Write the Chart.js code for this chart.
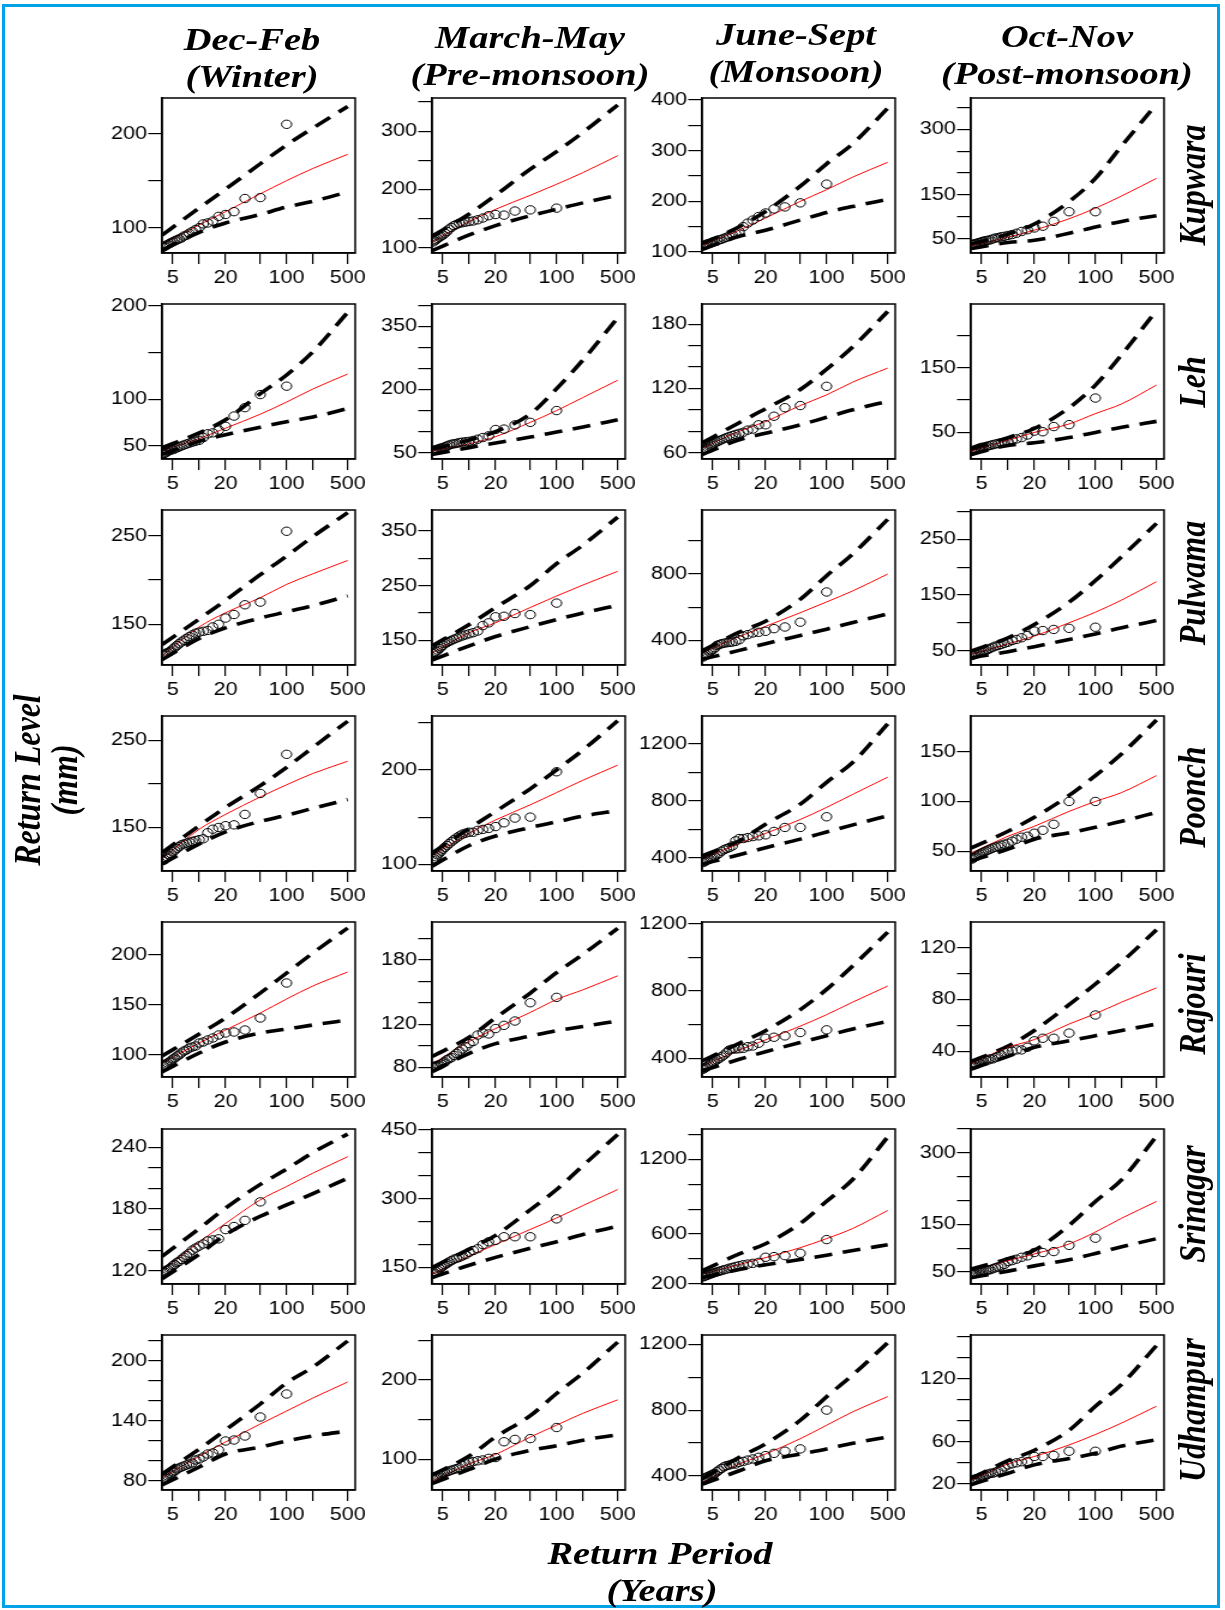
<!DOCTYPE html>
<html lang="en">
<head>
<meta charset="UTF-8">
<title>Return level plots</title>
<script src="https://cdn.jsdelivr.net/npm/chart.js"></script>
<style>
  body { margin: 0; background: #fff; }
  #frame { position: absolute; left: 2px; top: 4px; width: 1218px; height: 1604px; border: 3px solid #00a2e8; box-sizing: border-box; }
  /* the source figure is stretched sideways, so everything is drawn narrow and widened */
  #sheet { position: absolute; left: 0; top: 0; width: 1021px; height: 1610px; transform: scaleX(1.2); transform-origin: 0 0; }
  .lab { position: absolute; font-family: 'Liberation Serif', 'Times New Roman', serif; font-weight: bold; font-style: italic;
         font-size: 32px; line-height: 1; white-space: nowrap; color: #000; transform: translate(-50%, -50%); }
  .rot { transform: translate(-50%, -50%) rotate(-90deg); }
</style>
</head>
<body>
<div id="frame"></div>
<div id="sheet"></div>
<script>
// return periods where the fitted curve and bounds are read
const periods = [3.75, 10, 20, 50, 100, 200, 500];
// plotting positions of the ranked observations
const plotPos = [100, 50, 33.33, 25, 20, 16.67, 14.29, 12.5, 11.11, 10, 9.09, 8.33, 7.69, 7.14, 6.67, 6.25, 5.88, 5.56, 5.26, 5, 4.76, 4.55, 4.35, 4.17, 4, 3.85];
const xTicks = [5, 10, 20, 50, 100, 200, 500];
const xLabels = [5, 20, 100, 500];
const seasons = [['Dec-Feb', '(Winter)'], ['March-May', '(Pre-monsoon)'], ['June-Sept', '(Monsoon)'], ['Oct-Nov', '(Post-monsoon)']];
const stations = ['Kupwara', 'Leh', 'Pulwama', 'Poonch', 'Rajouri', 'Srinagar', 'Udhampur'];

// each station: one entry per season (winter, pre-monsoon, monsoon, post-monsoon)
const kupwaraLevel = [[82,103,117,136,150,163,178],[110,145,166,190,209,229,258],[113,143,167,200,223,248,277],[34,54,70,96,120,148,188]];
const kupwaraUpper = [[92,121,141,168,188,206,229],[120,158,190,235,265,298,345],[116,150,180,230,274,314,384],[38,61,84,135,188,262,357]];
const kupwaraLower = [[76,95,105,114,122,128,138],[95,122,138,155,166,177,190],[105,131,143,163,178,190,204],[28,42,47,63,77,90,103]];
const kupwaraObs = [
  [210,132,131,117,114,112,107,105,104,100,98,96,94,92,91,89,88,87,86,85,84,83,82,81,80,79],
  [168,165,163,156,157,155,151,148,146,145,144,143,142,140,138,135,132,128,125,122,120,118,116,114,112,110],
  [234,197,189,185,177,170,163,157,150,140,136,134,131,129,127,125,124,122,121,120,118,117,116,115,113,112],
  [112,112,90,79,75,71,67,63,60,58,56,55,53,52,50,48,47,46,45,44,42,41,40,39,38,37]];
const kupwaraRange = [[73,238],[91,357],[98,404],[18,371]];
const kupwaraTicks = [[100,150,200],[100,150,200,250,300,350],[100,150,200,250,300,350,400],[50,100,150,200,250,300,350]];
const kupwaraLabels = [[100,200],[100,200,300],[100,200,300,400],[50,150,300]];

const lehLevel = [[45,58,69,84,97,111,127],[54,71,88,122,150,181,222],[64,80,89,104,114,126,139],[21,38,50,63,79,94,123]];
const lehUpper = [[48,64,78,106,126,151,193],[58,80,100,142,202,270,370],[69,88,101,119,138,159,192],[24,42,56,88,123,170,238]];
const lehLower = [[41,55,62,70,76,81,90],[46,62,73,87,99,111,128],[58,72,78,86,93,100,108],[16,30,34,42,50,58,67]];
const lehObs = [
  [114,105,91,82,71,67,64,63,59,56,55,54,53,52,51,50,49,48,47,46,46,45,44,43,42,41],
  [150,122,116,106,105,90,86,82,79,77,76,75,74,72,71,70,68,66,64,62,61,60,58,57,56,55],
  [122,104,102,94,86,86,82,81,79,78,77,76,75,74,73,72,71,70,69,68,67,66,65,64,63,62],
  [103,62,59,51,52,46,42,40,38,36,35,34,33,32,31,30,29,28,27,27,26,25,24,23,22,21]];
const lehRange = [[36,202],[35,403],[54,199],[9,248]];
const lehTicks = [[50,100,150,200],[50,100,150,200,250,300,350,400],[60,80,100,120,140,160,180],[50,100,150,200]];
const lehLabels = [[50,100,200],[50,200,350],[60,120,180],[50,150]];

const pulwamaLevel = [[114,147,163,180,195,207,222],[127,164,182,210,231,251,276],[323,424,485,567,632,699,800],[43,62,76,100,119,141,174]];
const pulwamaUpper = [[127,156,177,206,227,249,276],[140,179,210,250,290,324,375],[338,450,516,648,790,922,1130],[49,73,97,137,176,219,279]];
const pulwamaLower = [[110,134,146,157,164,171,182],[114,140,157,175,188,200,214],[286,340,380,430,468,508,560],[37,48,57,70,80,91,104]];
const pulwamaObs = [
  [255,175,172,161,157,150,147,143,142,141,140,138,136,134,132,130,128,126,124,122,120,119,118,117,116,115],
  [218,197,199,194,193,182,177,167,164,162,160,158,156,154,152,150,148,146,144,141,138,135,132,130,128,126],
  [692,510,481,471,455,449,445,435,428,404,394,390,388,386,383,380,375,370,355,345,338,330,322,315,308,300],
  [92,90,88,86,85,77,73,70,68,65,63,61,59,58,56,54,52,50,49,48,47,45,44,43,42,41]];
const pulwamaRange = [[104,279],[105,388],[252,1186],[24,303]];
const pulwamaTicks = [[150,200,250],[150,200,250,300,350],[400,600,800,1000],[50,100,150,200,250,300]];
const pulwamaLabels = [[150,250],[150,250,350],[400,800],[50,150,250]];

const poonchLevel = [[114,148,165,185,199,212,226],[109,133,147,163,176,189,205],[388,500,570,668,753,845,965],[48,65,75,90,100,109,126]];
const poonchUpper = [[121,152,173,198,219,242,272],[112,138,156,180,200,221,252],[412,518,635,776,929,1070,1340],[53,70,84,106,126,148,182]];
const poonchLower = [[108,131,145,157,164,172,182],[98,120,130,139,145,151,157],[353,420,470,530,580,630,694],[40,52,62,68.5,74,80,89]];
const poonchObs = [
  [234,189,165,153,152,150,148,144,137,136,135,134,133,132,131,130,128,126,124,122,120,118,116,115,113,112],
  [198,150,149,144,140,138,137,136,134,134,133,132,130,128,126,124,122,120,118,116,114,112,110,108,106,104],
  [687,612,612,584,560,553,548,541,534,534,518,482,470,463,455,445,430,420,410,400,395,390,385,378,372,365],
  [100,100,77,71,68,65,64,62,60,58,57,56,55,54,53,52,51,50,49,48,47,46,45,44,43,42]];
const poonchRange = [[100,278],[93,257],[306,1395],[30,186]];
const poonchTicks = [[150,200,250],[100,150,200,250],[400,600,800,1000,1200],[50,100,150]];
const poonchLabels = [[150,250],[100,200],[400,800,1200],[50,100,150]];

const rajouriLevel = [[92,112,125,142,156,169,183],[83,104,116,131,143,152,165],[354,450,510,592,660,735,830],[30,43,49,61,69,78,89]];
const rajouriUpper = [[99,121,137,162,182,202,227],[90,108,126,149,168,185,209],[385,490,565,690,810,950,1150],[32,44,56,76,92,109,134]];
const rajouriLower = [[83,102,113,122,126,130,135],[76,93,102,109,114,118,123],[326,395,440,495,535,575,620],[26,36,43,48,52,56,61]];
const rajouriObs = [
  [172,137,125,123,122,120,117,115,113,112,109,108,107,105,104,102,100,99,97,96,94,93,92,91,90,89],
  [145,140,123,119,116,111,112,110,104,102,99,97,95,93,91,89,88,87,85,84,83,82,82,81,81,80],
  [570,554,534,526,520,490,474,470,460,458,456,456,450,434,420,410,400,392,385,378,370,362,355,348,342,336],
  [68,54,50,50,48,43,41,41,40,40,39,37,36,35,34,34,33,33,32,32,31,31,30,30,29,29]];
const rajouriRange = [[78,233],[71,215],[290,1210],[20,140]];
const rajouriTicks = [[100,150,200],[80,100,120,140,160,180,200],[400,600,800,1000,1200],[40,60,80,100,120]];
const rajouriLabels = [[100,150,200],[80,120,180],[400,800,1200],[40,80,120]];

const srinagarLevel = [[120,148,166,189,202,215,231],[135,175,200,233,258,285,320],[276,355,410,490,563,645,789],[52,74,88,109,134,163,198]];
const srinagarUpper = [[134,161,181,204,219,235,253],[150,190,220,276,320,372,440],[304,440,522,685,863,1040,1380],[56,78,96,148,198,244,335]];
const srinagarLower = [[112,136,155,173,184,195,210],[128,155,172,192,206,222,240],[249,315,352,395,430,467,514],[38,52,63,76,89,103,120]];
const srinagarObs = [
  [null,187,169,163,160,151,150,149,146,144,142,140,137,135,133,131,129,128,126,125,123,122,121,120,119,118],
  [256,217,217,217,209,206,200,191,187,183,178,175,172,170,168,165,162,159,156,153,150,147,144,141,138,136],
  [555,445,426,418,413,372,364,358,353,345,339,331,325,317,312,306,300,295,290,285,280,275,270,265,260,255],
  [121,106,93,91,91,84,81,77,74,72,66,63,61,59,57,55,54,53,52,51,50,49,48,47,46,45]];
const srinagarRange = [[107,258],[114,452],[198,1444],[25,350]];
const srinagarTicks = [[120,140,160,180,200,220,240],[150,200,250,300,350,400,450],[200,400,600,800,1000,1200,1400],[50,100,150,200,250,300,350]];
const srinagarLabels = [[120,180,240],[150,300,450],[200,600,1200],[50,150,300]];

const udhampurLevel = [[83,105,119,137,150,163,179],[72,94,106,128,143,158,175],[359,472,533,626,708,790,882],[23,39,46,57,67,78,94]];
const udhampurUpper = [[87,112,131,157,178,194,220],[80,104,128,155,183,209,248],[380,513,595,738,882,1015,1210],[25,42,52,71,94,115,152]];
const udhampurLower = [[76,94,107,114,120,125,130],[69,87,100,111,117,124,131],[349,431,492,533,564,599,636],[19,30,38,44,49,56,62]];
const udhampurObs = [
  [167,144,125,121,120,111,108,107,104,102,101,98,97,96,95,94,93,92,90,89,87,86,85,84,83,82],
  [140,126,125,122,102,101,99,98,97,96,94,92,89,88,87,86,85,84,83,82,80,79,78,77,76,75],
  [800,564,550,537,523,513,503,496,488,482,472,472,466,462,455,445,435,425,415,410,405,400,395,390,385,380],
  [51,51,47,46,46,41,41,40,39,38,36,33,32,31,30,30,29,28,27,27,26,25,25,24,24,23]];
const udhampurRange = [[71,226],[61,257],[314,1257],[14,162]];
const udhampurTicks = [[80,100,120,140,160,180,200,220],[100,150,200,250],[400,600,800,1000,1200],[20,40,60,80,100,120,140,160]];
const udhampurLabels = [[80,140,200],[100,200],[400,800,1200],[20,60,120]];

const levels = [kupwaraLevel, lehLevel, pulwamaLevel, poonchLevel, rajouriLevel, srinagarLevel, udhampurLevel];
const uppers = [kupwaraUpper, lehUpper, pulwamaUpper, poonchUpper, rajouriUpper, srinagarUpper, udhampurUpper];
const lowers = [kupwaraLower, lehLower, pulwamaLower, poonchLower, rajouriLower, srinagarLower, udhampurLower];
const observed = [kupwaraObs, lehObs, pulwamaObs, poonchObs, rajouriObs, srinagarObs, udhampurObs];
const yRanges = [kupwaraRange, lehRange, pulwamaRange, poonchRange, rajouriRange, srinagarRange, udhampurRange];
const yTicks = [kupwaraTicks, lehTicks, pulwamaTicks, poonchTicks, rajouriTicks, srinagarTicks, udhampurTicks];
const yLabels = [kupwaraLabels, lehLabels, pulwamaLabels, poonchLabels, rajouriLabels, srinagarLabels, udhampurLabels];

// layout (page pixels, before the sideways stretch S)
const S = 1.2;
const COL_X = [162.5, 431.5, 702, 970.5];
const ROW_Y = [98, 304, 510, 716, 921.5, 1128.5, 1334.5];
const BOX_W = Math.round(193 / S), BOX_H = 155;
const PAD_L = 62, PAD_T = 12, PAD_R = 22, PAD_B = 34;

Chart.defaults.font.family = "'Liberation Sans', Arial, sans-serif";
Chart.defaults.font.size = 18;
Chart.defaults.color = '#000';

const boxPlugin = {
  id: 'box',
  afterDatasetsDraw(chart) {
    const { ctx, chartArea: a } = chart;
    ctx.save();
    ctx.strokeStyle = '#000';
    ctx.lineWidth = 1.5;
    ctx.strokeRect(a.left, a.top, a.right - a.left, a.bottom - a.top);
    ctx.restore();
  }
};

const sheet = document.getElementById('sheet');

function addText(txt, x, y, rotated) {
  const el = document.createElement('div');
  el.className = rotated ? 'lab rot' : 'lab';
  el.textContent = txt;
  el.style.left = (x / S) + 'px';
  el.style.top = y + 'px';
  sheet.appendChild(el);
}

function pairs(xs, ys) {
  return xs.map((x, i) => ({ x: x, y: ys[i] }));
}

function lineSet(ys, color, width, dash) {
  return {
    type: 'line', data: pairs(periods, ys), borderColor: color, borderWidth: width,
    borderDash: dash, borderCapStyle: 'butt', pointRadius: 0, fill: false,
    cubicInterpolationMode: 'monotone', clip: 0
  };
}

function makePanel(r, c) {
  const cv = document.createElement('canvas');
  const w = PAD_L + BOX_W + PAD_R, h = PAD_T + BOX_H + PAD_B;
  cv.width = w; cv.height = h;
  cv.style.cssText = 'position:absolute;left:' + (COL_X[c] / S - PAD_L) + 'px;top:' + (ROW_Y[r] - PAD_T) +
    'px;width:' + w + 'px;height:' + h + 'px';
  sheet.appendChild(cv);

  const ticks = yTicks[r][c], labels = yLabels[r][c];
  new Chart(cv, {
    type: 'scatter',
    data: {
      datasets: [
        { data: pairs(plotPos, observed[r][c]), pointStyle: 'circle', pointRadius: 4.2, borderWidth: 1,
          borderColor: '#000', backgroundColor: 'rgba(0,0,0,0)', clip: 0 },
        lineSet(levels[r][c], '#ff0000', 1, []),
        lineSet(uppers[r][c], '#000', 3.6, [15, 9]),
        lineSet(lowers[r][c], '#000', 3.6, [15, 9])
      ]
    },
    options: {
      responsive: false,
      animation: false,
      events: [],
      layout: { padding: { left: 0, top: PAD_T, right: PAD_R, bottom: 0 } },
      plugins: { legend: { display: false }, tooltip: { enabled: false } },
      scales: {
        x: {
          type: 'logarithmic', min: 3.75, max: 610,
          afterBuildTicks: s => { s.ticks = xTicks.map(v => ({ value: v })); },
          afterFit: s => { s.height = PAD_B; },
          ticks: { autoSkip: false, maxRotation: 0, padding: 3,
                   callback: v => xLabels.includes(v) ? String(v) : '' },
          grid: { drawOnChartArea: false, tickLength: 11, color: '#000', lineWidth: 1.2 },
          border: { display: true, color: '#000', width: 1.5 }
        },
        y: {
          type: 'linear', min: yRanges[r][c][0], max: yRanges[r][c][1],
          afterBuildTicks: s => { s.ticks = ticks.map(v => ({ value: v })); },
          afterFit: s => { s.width = PAD_L; },
          ticks: { autoSkip: false, padding: 1,
                   callback: v => labels.includes(v) ? String(v) : '' },
          grid: { drawOnChartArea: false, tickLength: 11.5, color: '#000', lineWidth: 1.2 },
          border: { display: true, color: '#000', width: 1.5 }
        }
      }
    },
    plugins: [boxPlugin]
  });
}

for (let r = 0; r < stations.length; r++) {
  for (let c = 0; c < seasons.length; c++) makePanel(r, c);
}

// column headings
const titleX = [252, 530, 796, 1067];
const titleY = [[39, 76], [37, 74], [34, 71], [36, 73]];
seasons.forEach((s, c) => {
  addText(s[0], titleX[c], titleY[c][0], false);
  addText(s[1], titleX[c], titleY[c][1], false);
});

// station names down the right side
const nameY = [185, 382, 583, 797, 1004, 1204, 1410];
stations.forEach((s, r) => addText(s, 1191, nameY[r], true));

// axis titles
addText('Return Level', 26, 780, true);
addText('(mm)', 64, 780, true);
addText('Return Period', 660, 1553, false);
addText('(Years)', 662, 1590, false);
</script>
</body>
</html>
